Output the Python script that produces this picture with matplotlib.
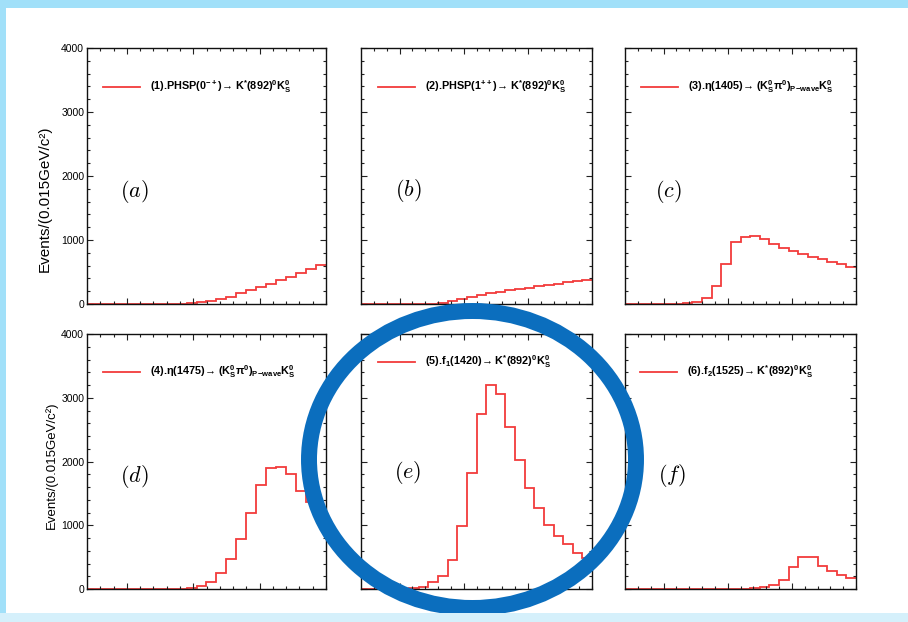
import numpy as np
import matplotlib
matplotlib.use('Agg')
from matplotlib import pyplot as plt
from matplotlib.patches import Ellipse, Rectangle
from matplotlib.lines import Line2D

plt.rcParams['font.family'] = ['Liberation Sans', 'DejaVu Sans']
plt.rcParams['mathtext.fontset'] = 'custom'
plt.rcParams['mathtext.rm'] = 'Liberation Sans:bold'
plt.rcParams['mathtext.it'] = 'Liberation Sans:italic:bold'
plt.rcParams['mathtext.bf'] = 'Liberation Sans:bold'

# M(K*0 K_S) histograms, 24 bins of 0.015 GeV from 1.24 GeV
m_lo = 1.24
bin_w = 0.015
n_bins = 24

phsp_0mp = [0, 0, 0, 0, 0, 0, 0, 0, 0, 2, 10, 26, 47, 84, 115, 168,
            215, 268, 320, 373, 425, 478, 546, 604]
phsp_1pp = [0, 0, 0, 0, 0, 0, 0, 5, 16, 41, 78, 114, 145, 171, 192, 212,
            233, 254, 275, 295, 316, 337, 357, 373]
eta1405 = [0, 0, 0, 0, 0, 5, 16, 36, 88, 275, 632, 964, 1047, 1057, 1010, 933,
           876, 829, 782, 731, 699, 663, 627, 580]
eta1475 = [0, 0, 0, 0, 0, 0, 0, 0, 0, 5, 21, 52, 115, 257, 466, 785,
           1199, 1633, 1895, 1911, 1806, 1545, 1365, 1136]
f1_1420 = [0, 0, 0, 0, 2, 10, 37, 105, 209, 455, 995, 1827, 2743, 3204, 3058, 2534,
           2026, 1581, 1277, 1005, 838, 707, 571, 482]
f2_1525 = [0, 0, 0, 0, 0, 0, 0, 0, 0, 0, 0, 0, 3, 10, 26, 63,
           141, 351, 508, 497, 366, 288, 220, 178]

series = [phsp_0mp, phsp_1pp, eta1405, eta1475, f1_1420, f2_1525]
legend_txt = [
    r'(1).PHSP($\mathbf{0^{-+}}$)→ K$^{\mathbf{*}}$(892)$^{\mathbf{0}}$K$_{\mathbf{S}}^{\mathbf{0}}$',
    r'(2).PHSP($\mathbf{1^{++}}$)→ K$^{\mathbf{*}}$(892)$^{\mathbf{0}}$K$_{\mathbf{S}}^{\mathbf{0}}$',
    r'(3).η(1405)→ (K$_{\mathbf{S}}^{\mathbf{0}}$π$^{\mathbf{0}}$)$_{\mathbf{P\!-\!wave}}$K$_{\mathbf{S}}^{\mathbf{0}}$',
    r'(4).η(1475)→ (K$_{\mathbf{S}}^{\mathbf{0}}$π$^{\mathbf{0}}$)$_{\mathbf{P\!-\!wave}}$K$_{\mathbf{S}}^{\mathbf{0}}$',
    r'(5).f$_{\mathbf{1}}$(1420)→ K$^{\mathbf{*}}$(892)$^{\mathbf{0}}$K$_{\mathbf{S}}^{\mathbf{0}}$',
    r'(6).f$_{\mathbf{2}}$(1525)→ K$^{\mathbf{*}}$(892)$^{\mathbf{0}}$K$_{\mathbf{S}}^{\mathbf{0}}$',
]
tags = ['(a)', '(b)', '(c)', '(d)', '(e)', '(f)']

W, H = 908, 622
fig = plt.figure(figsize=(W / 100, H / 100), dpi=100)
fig.patch.set_facecolor('white')

# axes boxes in pixels: left, right, top, bottom
cols = [(87, 326), (361, 592), (625, 856)]
rows = [(48, 304), (334, 589)]
leg_pos = [(0.067, 0.848), (0.074, 0.848), (0.069, 0.848),
           (0.067, 0.851), (0.074, 0.890), (0.065, 0.851)]
tag_pos = [(0.197, 0.441), (0.203, 0.445), (0.186, 0.441),
           (0.197, 0.443), (0.203, 0.455), (0.203, 0.447)]

edges = m_lo + bin_w * np.arange(n_bins + 1)
red = '#f23b3b'

for i, vals in enumerate(series):
    r, c = divmod(i, 3)
    x0, x1 = cols[c]
    y0, y1 = rows[r]
    ax = fig.add_axes([x0 / W, 1 - y1 / H, (x1 - x0) / W, (y1 - y0) / H])
    ax.stairs(vals, edges, color=red, lw=1.3, baseline=None)
    ax.set_xlim(edges[0], edges[-1])
    ax.set_ylim(0, 4000)
    ax.set_xticks([1.3, 1.4, 1.5])
    ax.set_xticks(np.arange(1.26, 1.60, 0.02), minor=True)
    ax.set_yticks([0, 1000, 2000, 3000, 4000])
    ax.set_yticks(np.arange(0, 4001, 200), minor=True)
    ax.set_xticklabels([])
    ax.tick_params(which='both', direction='in', top=True, right=True,
                   width=0.8, color='#222222')
    ax.tick_params(which='major', length=4.5)
    ax.tick_params(which='minor', length=2.2)
    for s in ax.spines.values():
        s.set_linewidth(1.0)
        s.set_color('#111111')
    if c == 0:
        ax.tick_params(axis='y', labelsize=7.5, pad=2)
        ax.set_ylabel('Events/(0.015GeV/c²)', fontsize=11 if r == 0 else 9.5)
        if r == 0:
            ax.yaxis.set_label_coords(-0.146, 0.41)
        else:
            ax.yaxis.set_label_coords(-0.121, 0.486)
    else:
        ax.set_yticklabels([])

    h = Line2D([], [], color=red, lw=1.3)
    ax.legend([h], [legend_txt[i]], loc='center left', bbox_to_anchor=leg_pos[i],
              frameon=False, prop={'weight': 'bold', 'size': 7.8},
              handlelength=3.4, handletextpad=0.9, borderpad=0, borderaxespad=0)
    ax.text(tag_pos[i][0], tag_pos[i][1], '$' + tags[i] + '$', transform=ax.transAxes,
            ha='center', va='center', fontsize=16, math_fontfamily='cm')

# frame bands
fig.add_artist(Rectangle((0, 1 - 8 / H), 1, 8 / H, transform=fig.transFigure,
                         facecolor='#a1e0f9', edgecolor='none', zorder=6))
fig.add_artist(Rectangle((0, 0), 6 / W, 1, transform=fig.transFigure,
                         facecolor='#a1e0f9', edgecolor='none', zorder=6))

# highlight ring around panel (e)
fig.add_artist(Ellipse((472.5 / W, 1 - 459.5 / H), 327 / W, 297 / H,
                       transform=fig.transFigure, fill=False,
                       edgecolor='#0b6ebe', lw=11.5, zorder=5))
fig.add_artist(Rectangle((0, 0), 1, 9 / H, transform=fig.transFigure,
                         facecolor='#d5f0fb', edgecolor='none', zorder=7))

fig.savefig('out.png', dpi=100)
